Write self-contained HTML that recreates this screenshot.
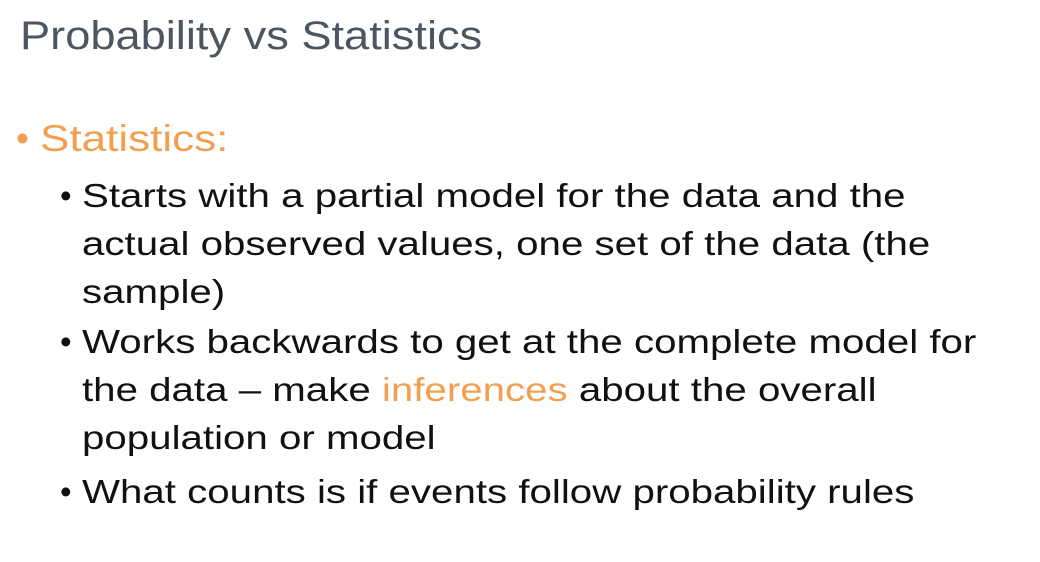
<!DOCTYPE html>
<html><head><meta charset="utf-8"><style>
html,body{margin:0;padding:0;background:#fff;}
body{width:1040px;height:562px;position:relative;overflow:hidden;font-family:"Liberation Sans",sans-serif;}
.l{position:absolute;white-space:nowrap;line-height:1;transform-origin:0 0;}
.t{left:20px;top:16px;font-size:40px;color:#4d5561;transform:scaleX(1.13);}
.hb{left:16px;top:120px;font-size:37px;color:#f0a050;}
.h{left:40px;top:120px;font-size:37px;color:#f0a050;transform:scaleX(1.19);}
.s{left:82px;font-size:33px;color:#111;transform:scaleX(1.22);}
.b{position:absolute;left:60px;font-size:33px;color:#111;line-height:1;}
.o{color:#f0a050;}
</style></head><body>
<div class="l t">Probability vs Statistics</div>
<div class="l hb">•</div>
<div class="l h">Statistics:</div>
<div class="b" style="top:179px">•</div>
<div class="l s" style="top:179px">Starts with a partial model for the data and the</div>
<div class="l s" style="top:227px">actual observed values, one set of the data (the</div>
<div class="l s" style="top:275px">sample)</div>
<div class="b" style="top:325px">•</div>
<div class="l s" style="top:325px">Works backwards to get at the complete model for</div>
<div class="l s" style="top:373px">the data – make <span class="o">inferences</span> about the overall</div>
<div class="l s" style="top:421px">population or model</div>
<div class="b" style="top:475px">•</div>
<div class="l s" style="top:475px">What counts is if events follow probability rules</div>
</body></html>
